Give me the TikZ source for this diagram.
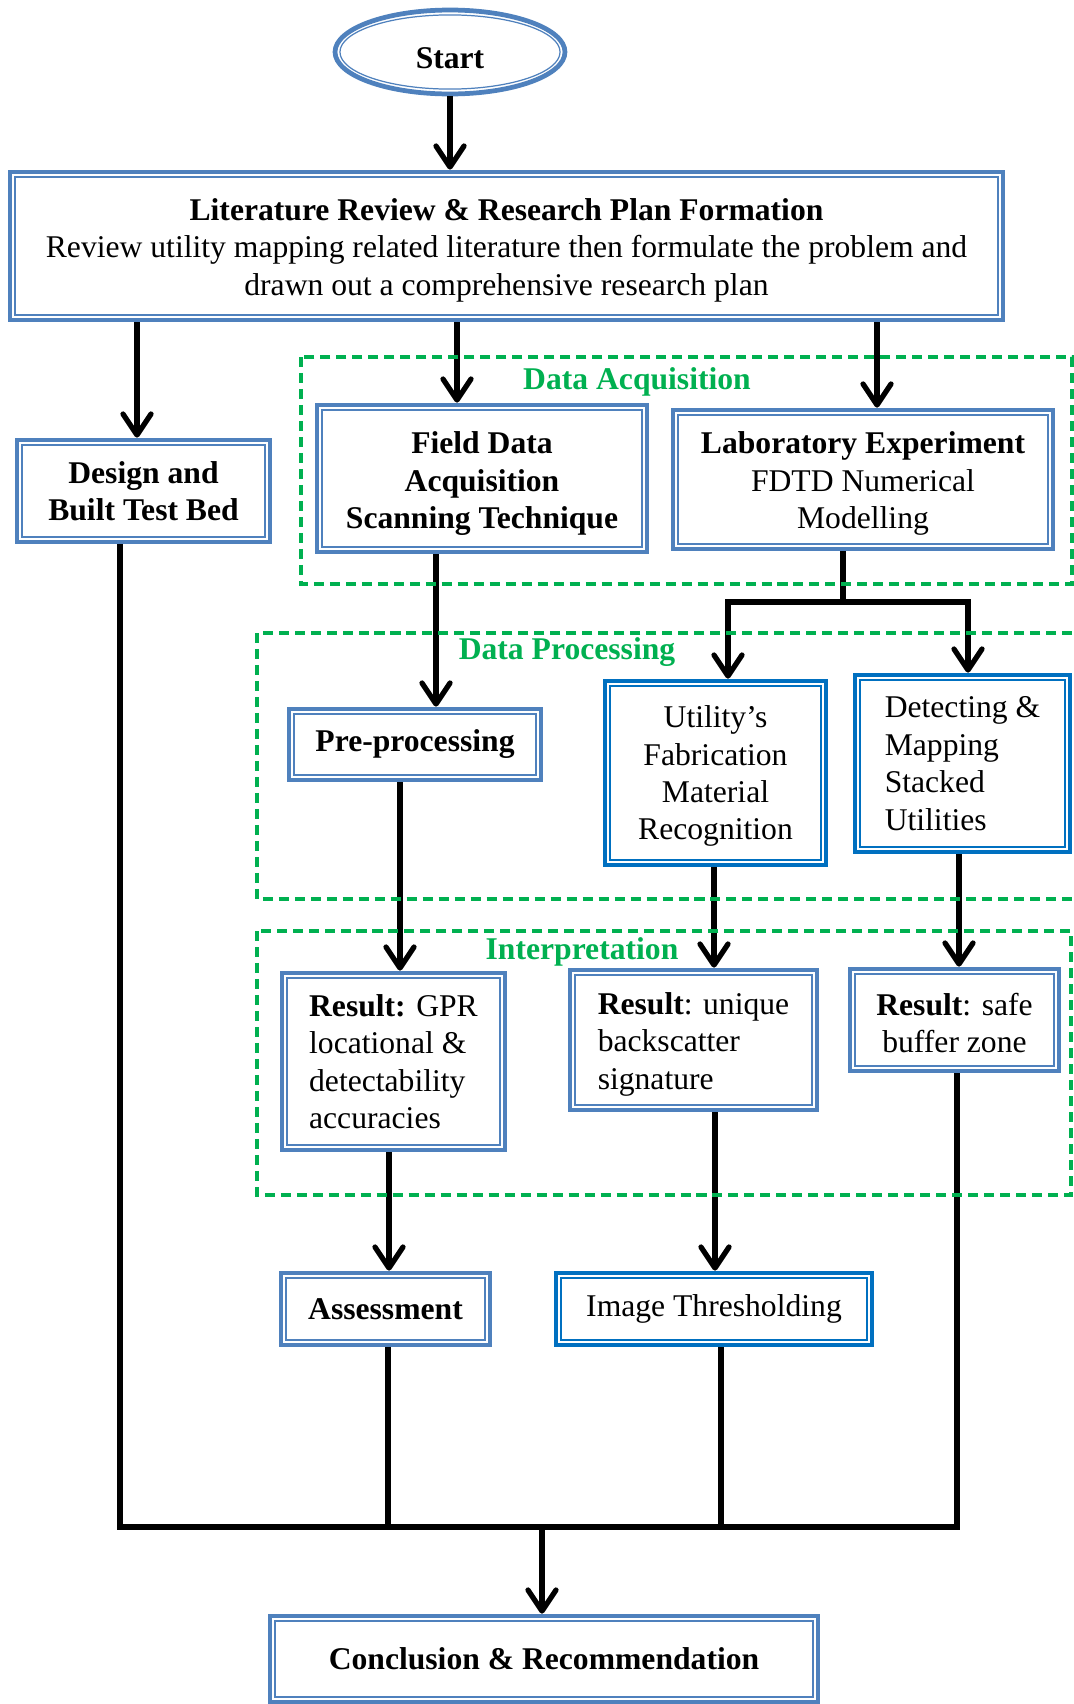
\documentclass[tikz,border=0pt]{standalone}
\usepackage{fontspec}
\setmainfont{Liberation Serif}
\usetikzlibrary{shapes.geometric,arrows.meta,positioning}
\definecolor{boxblue}{HTML}{4F81BD}
\definecolor{deepblue}{HTML}{0070C0}
\definecolor{grpgreen}{HTML}{00B050}
\newcommand{\padtop}[1]{\rule{0pt}{#1}}

\tikzset{
    bbox/.style={draw=#1, line width=2.7pt, fill=white, align=center, inner sep=2pt,
        font=\fontsize{18}{21.3}\selectfont,
        path picture={\draw[#1, line width=0.7pt]
            ([shift={(2.8pt,-2.8pt)}]path picture bounding box.north west) rectangle
            ([shift={(-2.8pt,2.8pt)}]path picture bounding box.south east);}},
    bbox/.default=boxblue,
    startnode/.style={ellipse, draw=boxblue, line width=2.7pt, fill=white,
        minimum width=4.6cm, minimum height=1.68cm, font=\fontsize{18}{21.3}\selectfont\bfseries,
        path picture={\draw[boxblue, line width=0.7pt] (path picture bounding box.center)
            ellipse [x radius=2.3cm-2.8pt, y radius=0.84cm-2.8pt];}},
    arr/.style={line width=3pt, -{Straight Barb[round, length=0.42cm, width=0.56cm]}},
    wire/.style={line width=3.1pt},
    grp/.style={draw=grpgreen, line width=2.2pt, dash pattern=on 5.7pt off 3.4pt},
    grplabel/.style={text=grpgreen, font=\fontsize{18}{21.3}\selectfont\bfseries}
}

\begin{document}
\begin{tikzpicture}[x=0.02cm, y=-0.02cm]
    \useasboundingbox (0,0) rectangle (1074,1704);

    % Blocks
    \node[startnode] (start) at (450,52) {\padtop{18.5pt}Start};
    \node[bbox, minimum width=19.86cm, minimum height=2.96cm] (lit) at (506.5,246)
        {\padtop{17.3pt}\textbf{Literature Review \& Research Plan Formation}\\Review utility mapping related literature then formulate the problem and\\drawn out a comprehensive research plan};
    \node[bbox, minimum width=5.06cm, minimum height=2.04cm] (design) at (143.5,491) {\textbf{Design and}\\\textbf{Built Test Bed}};
    \node[bbox, minimum width=6.6cm, minimum height=2.94cm] (field) at (482,478.5) {\padtop{18.5pt}\textbf{Field Data}\\\textbf{Acquisition}\\\textbf{Scanning Technique}};
    \node[bbox, minimum width=7.6cm, minimum height=2.78cm] (lab) at (863,479.5) {\padtop{17.3pt}\textbf{Laboratory Experiment}\\FDTD Numerical\\Modelling};
    \node[bbox, minimum width=5.04cm, minimum height=1.42cm] (pre) at (415,744.5) {\textbf{Pre-processing}};
    \node[bbox=deepblue, minimum width=4.42cm, minimum height=3.68cm] (util) at (715.5,773) {\padtop{16.1pt}Utility’s\\Fabrication\\Material\\Recognition};
    \node[bbox=deepblue, align=left, minimum width=4.3cm, minimum height=3.54cm] (detect) at (962.5,763.5) {Detecting \&\\Mapping\\Stacked\\Utilities};
    \node[bbox, align=left, minimum width=4.46cm, minimum height=3.54cm] (gpr) at (393.5,1061.5) {\textbf{Result:} GPR\\locational \&\\detectability\\accuracies};
    \node[bbox, align=left, minimum width=4.94cm, minimum height=2.8cm] (uniq) at (693.5,1040) {\padtop{17.3pt}\textbf{Result}: unique\\backscatter\\signature};
    \node[bbox, minimum width=4.18cm, minimum height=2.04cm] (safe) at (954.5,1020) {\padtop{16.1pt}\textbf{Result}: safe\\buffer zone};
    \node[bbox, minimum width=4.18cm, minimum height=1.44cm] (assess) at (385.5,1309) {\textbf{Assessment}};
    \node[bbox=deepblue, minimum width=6.32cm, minimum height=1.44cm] (thresh) at (714,1309) {Image Thresholding};
    \node[bbox, minimum width=10.96cm, minimum height=1.72cm] (concl) at (544,1659) {\textbf{Conclusion \& Recommendation}};

    % Arrows
    \draw[arr] (start) -- (start |- lit.north);
    \draw[arr] (137,0 |- lit.south) -- (137,0 |- design.north);
    \draw[arr] (457,0 |- lit.south) -- (457,0 |- field.north);
    \draw[arr] (877,0 |- lit.south) -- (877,0 |- lab.north);
    \draw[arr] (436,0 |- field.south) -- (436,0 |- pre.north);
    \coordinate (split) at (843,602);
    \draw[arr] (843,0 |- lab.south) -- (split) -| (728,0 |- util.north);
    \draw[arr] (split) -| (968,0 |- detect.north);
    \draw[arr] (400,0 |- pre.south) -- (400,0 |- gpr.north);
    \draw[arr] (714,0 |- util.south) -- (714,0 |- uniq.north);
    \draw[arr] (959,0 |- detect.south) -- (959,0 |- safe.north);
    \draw[arr] (389,0 |- gpr.south) -- (389,0 |- assess.north);
    \draw[arr] (715,0 |- uniq.south) -- (715,0 |- thresh.north);

    % Merge to conclusion
    \coordinate (mergeL) at (120,1527); \coordinate (mergeR) at (957,1527); \coordinate (merge) at (542,1527);
    \draw[wire] (120,0 |- design.south) -- (mergeL) -- (mergeR) -- (957,0 |- safe.south);
    \draw[wire] (388,0 |- assess.south) -- (388,0 |- mergeL);
    \draw[wire] (721,0 |- thresh.south) -- (721,0 |- mergeL);
    \draw[arr] (merge) -- (merge |- concl.north);

    % Groups
    \draw[grp] (301,357) rectangle (1072,584); \node[grplabel] (acqlabel) at (637,382) {Data Acquisition};
    \draw[grp] (257,633) rectangle (1078,899); \node[grplabel] (proclabel) at (567,652) {Data Processing};
    \draw[grp] (257,931) rectangle (1071,1195); \node[grplabel] (interplabel) at (582,952) {Interpretation};
\end{tikzpicture}
\end{document}
